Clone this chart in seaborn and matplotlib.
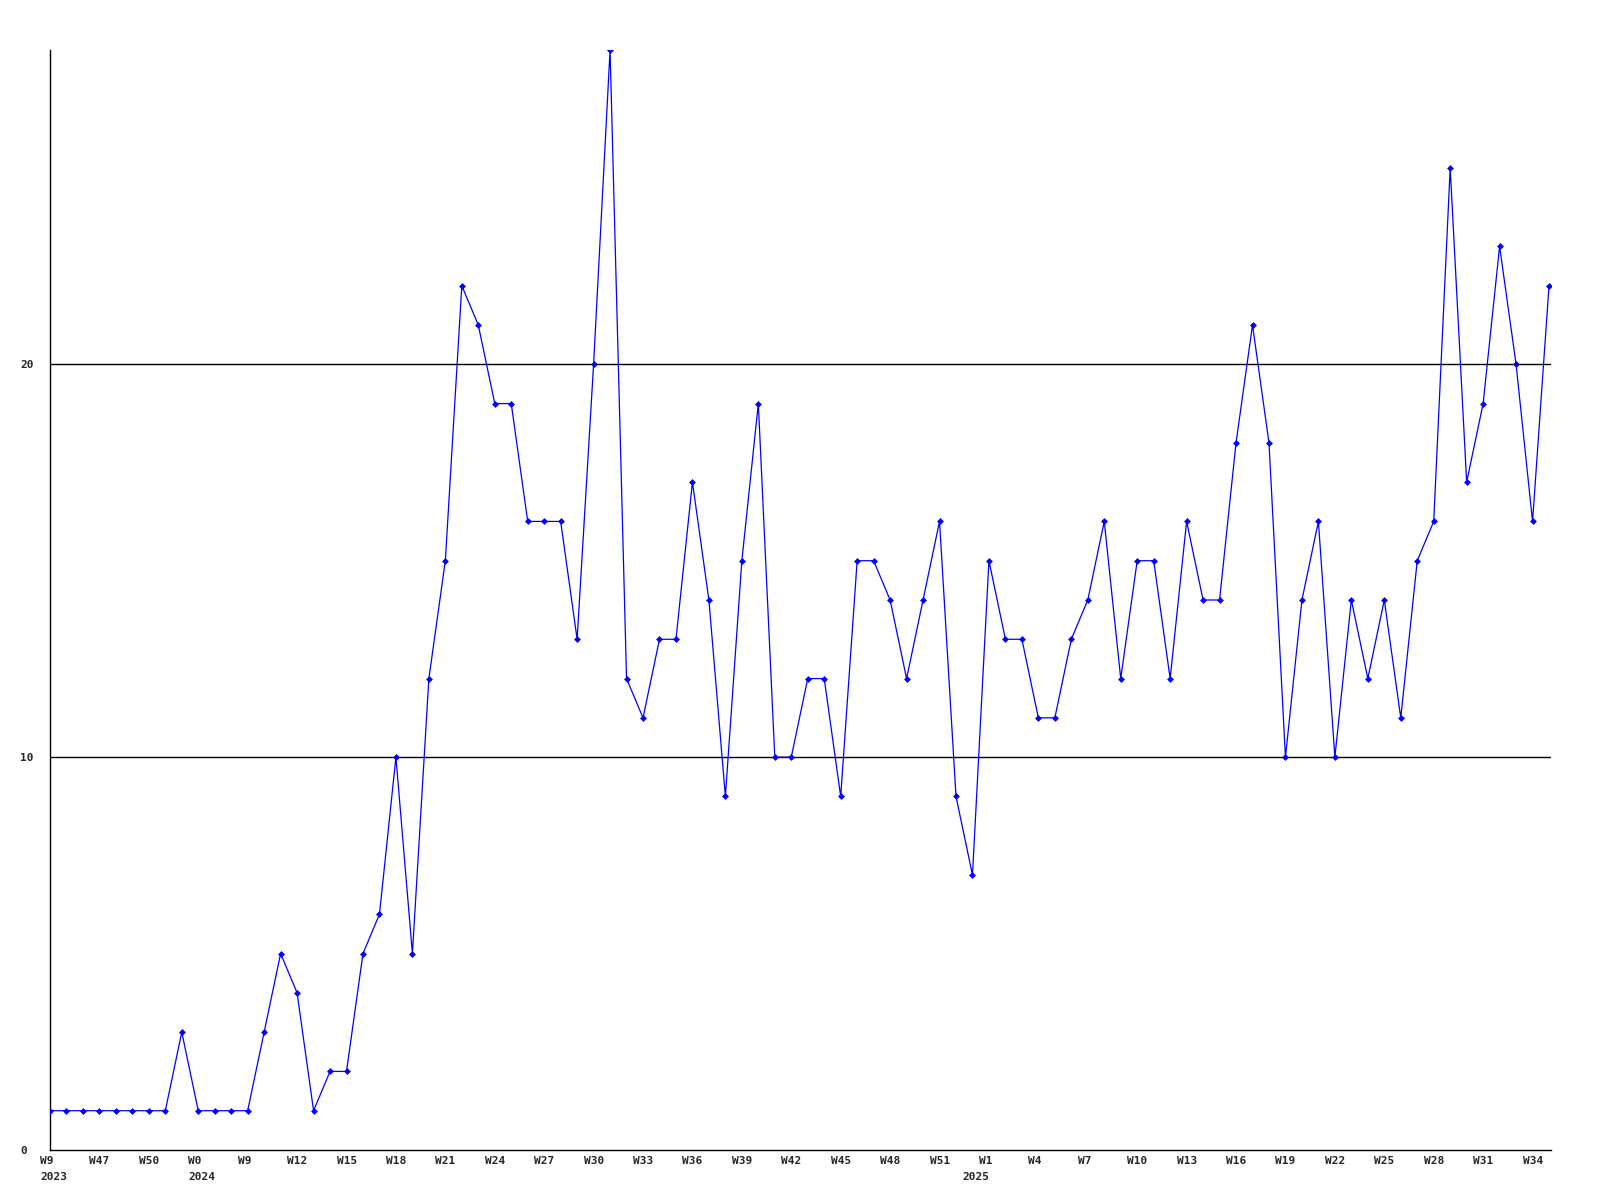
import matplotlib
matplotlib.use("Agg")
import matplotlib.pyplot as plt
import matplotlib.transforms as mtransforms
import seaborn as sns
import pandas as pd

values = [1, 1, 1, 1, 1, 1, 1, 1, 3, 1, 1, 1, 1, 3, 5, 4, 1, 2, 2, 5,
          6, 10, 5, 12, 15, 22, 21, 19, 19, 16, 16, 16, 13, 20, 28, 12, 11, 13, 13, 17,
          14, 9, 15, 19, 10, 10, 12, 12, 9, 15, 15, 14, 12, 14, 16, 9, 7, 15, 13, 13,
          11, 11, 13, 14, 16, 12, 15, 15, 12, 16, 14, 14, 18, 21, 18, 10, 14, 16, 10, 14,
          12, 14, 11, 15, 16, 25, 17, 19, 23, 20, 16, 22]

tick_labels = ["W9", "W47", "W50", "W0", "W9", "W12", "W15", "W18",
               "W21", "W24", "W27", "W30", "W33", "W36", "W39", "W42", "W45",
               "W48", "W51", "W1", "W4", "W7", "W10", "W13", "W16", "W19",
               "W22", "W25", "W28", "W31", "W34"]
tick_step = 3

year_labels = ["2023", "2024", "2025"]
year_positions = [0, 9, 56]

y_ticks = [0, 10, 20]

sns.set_style("white")
plt.rcParams['font.family'] = ['DejaVu Sans Mono', 'DejaVu Sans']

df = pd.DataFrame({"idx": list(range(len(values))), "value": values})

fig = plt.figure(figsize=(16, 12), dpi=100)
ax = fig.add_axes([50 / 1600, 50 / 1200, 1501 / 1600, 1100 / 1200])

for yv in y_ticks[1:]:
    ax.axhline(yv, color="black", linewidth=1, zorder=1)

sns.lineplot(data=df, x="idx", y="value", ax=ax, color="#0000ff", linewidth=0.9,
             marker="D", markersize=3, markeredgewidth=0.5, markeredgecolor="#0000ff",
             zorder=3)

ax.set_xlim(0, len(values) - 1 + 0.12)
ax.set_ylim(0, 28)

ax.set_xticks(list(range(0, len(values), tick_step)))
ax.set_xticklabels(tick_labels, fontsize=8, fontweight="bold")
ax.set_yticks(y_ticks)
ax.set_yticklabels([str(v) for v in y_ticks], fontsize=8, fontweight="bold")
ax.tick_params(axis="x", length=0, pad=4)
ax.tick_params(axis="y", length=0, pad=21.6)
for lab in ax.get_yticklabels():
    lab.set_ha("left")

offset = mtransforms.ScaledTranslation(-10 / 100, 0, fig.dpi_scale_trans)
for lab in ax.get_xticklabels():
    lab.set_ha("left")
    lab.set_transform(lab.get_transform() + offset)

year_tr = mtransforms.blended_transform_factory(ax.transData, fig.transFigure) + offset
for txt, pos in zip(year_labels, year_positions):
    ax.text(pos, 1 - 1177 / 1200, txt, transform=year_tr, ha="left", va="center",
            fontsize=8, fontweight="bold", clip_on=False)

ax.set_xlabel("")
ax.set_ylabel("")
for s in ["top", "right"]:
    ax.spines[s].set_visible(False)
for s in ["left", "bottom"]:
    ax.spines[s].set_color("black")
    ax.spines[s].set_linewidth(1)
ax.grid(False)

fig.savefig("out.png", dpi=100, facecolor="white")
